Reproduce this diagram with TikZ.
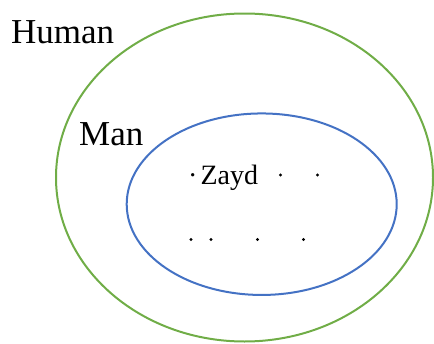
\documentclass[tikz,border=0pt]{standalone}
\usepackage{fontspec}
\setmainfont{Liberation Serif}
\usetikzlibrary{shapes.geometric}
\definecolor{setgreen}{HTML}{70AD47}
\definecolor{setblue}{HTML}{4472C4}
\begin{document}
\begin{tikzpicture}[x=1pt,y=-1pt,
  setring/.style={ellipse,draw,line width=2pt,inner sep=0pt},
  lbl/.style={anchor=base west,inner sep=0pt,font=\fontsize{35}{40}\selectfont},
  elem/.style={anchor=base west,inner sep=0pt,font=\fontsize{28}{32}\selectfont},
  pt/.style={circle,fill=black,inner sep=0pt,minimum size=3.4pt}]
\useasboundingbox (0,0) rectangle (434,343);
\node[setring,draw=setgreen,minimum width=377pt,minimum height=328pt] (human) at (244.5,177.5) {};
\node[setring,draw=setblue,minimum width=270pt,minimum height=181.5pt] (man) at (261.7,204.2) {};
\node[lbl] (humanlbl) at (11,43.3) {Human};
\node[lbl] (manlbl) at (79,145.7) {Man};
\node[elem] (zayd) at (188,184) {·\kern3pt Zayd};
\node[pt] (d1) at (280.5,175) {};
\node[pt] (d2) at (317.5,175) {};
\node[pt] (d3) at (191,239.5) {};
\node[pt] (d4) at (211,239.5) {};
\node[pt] (d5) at (257.5,239.5) {};
\node[pt] (d6) at (303.5,239.5) {};
\end{tikzpicture}
\end{document}
